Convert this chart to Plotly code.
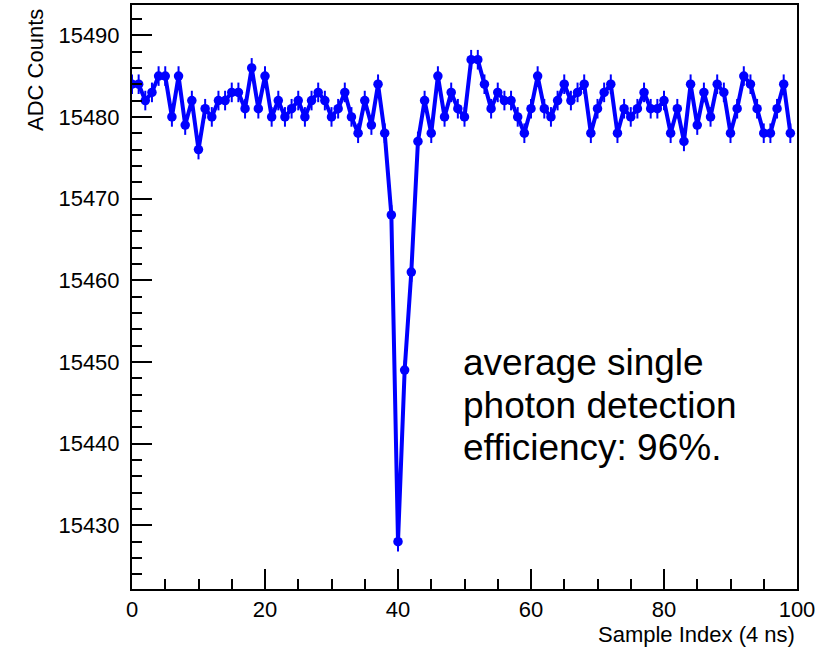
import plotly.graph_objects as go

sample_index = list(range(100))
adc_counts = [
    15484, 15484, 15482, 15483, 15485, 15485, 15480, 15485, 15479, 15482,
    15476, 15481, 15480, 15482, 15482, 15483, 15483, 15481, 15486, 15481,
    15485, 15480, 15482, 15480, 15481, 15482, 15480, 15482, 15483, 15482,
    15480, 15481, 15483, 15480, 15478, 15482, 15479, 15484, 15478, 15468,
    15428, 15449, 15461, 15477, 15482, 15478, 15485, 15480, 15483, 15481,
    15480, 15487, 15487, 15484, 15481, 15483, 15482, 15482, 15480, 15478,
    15481, 15485, 15481, 15480, 15482, 15484, 15482, 15483, 15484, 15478,
    15481, 15483, 15484, 15478, 15481, 15480, 15481, 15483, 15481, 15481,
    15482, 15478, 15481, 15477, 15484, 15479, 15483, 15480, 15484, 15483,
    15478, 15481, 15485, 15484, 15481, 15478, 15478, 15481, 15484, 15478,
]
adc_error = 1.2

x_title = "Sample Index (4 ns)"
y_title = "ADC Counts"
note_lines = ["average single", "photon detection", "efficiency: 96%."]

FONT = "Liberation Sans, Arial, Helvetica, sans-serif"
BLUE = "#0000ff"

fig = go.Figure()
fig.add_trace(go.Scatter(
    x=sample_index, y=adc_counts,
    mode="lines+markers",
    line=dict(color=BLUE, width=4),
    marker=dict(color=BLUE, size=9.5),
    error_y=dict(type="constant", value=adc_error, color=BLUE, thickness=2, width=0),
    hoverinfo="skip",
    showlegend=False,
))

W, H = 826, 647
L, R, T, B = 132, 29, 3, 58
pw, ph = W - L - R, H - T - B

def px_to_paper_x(px):
    return (px - L) / pw

def py_to_paper_y(py):
    return (H - B - py) / ph

annotations = []
for line, center_py in zip(note_lines, [362, 405, 447]):
    annotations.append(dict(
        text=line, xref="paper", yref="paper",
        x=px_to_paper_x(461), y=py_to_paper_y(center_py),
        xanchor="left", yanchor="middle", showarrow=False,
        font=dict(family=FONT, size=37, color="black"),
    ))
annotations.append(dict(
    text=x_title, xref="paper", yref="paper",
    x=1, y=py_to_paper_y(635), xanchor="right", yanchor="middle",
    showarrow=False, font=dict(family=FONT, size=22, color="black"),
))
annotations.append(dict(
    text=y_title, xref="paper", yref="paper",
    x=px_to_paper_x(36), y=py_to_paper_y(5), xanchor="center", yanchor="top",
    textangle=-90, showarrow=False, font=dict(family=FONT, size=22, color="black"),
))

axis_common = dict(
    showline=True, linecolor="black", linewidth=2, mirror=True,
    ticks="inside", tickcolor="black", tickwidth=2, ticklen=20,
    showgrid=False, zeroline=False,
    tickfont=dict(family=FONT, size=22, color="black"),
)

fig.update_layout(
    width=W, height=H,
    margin=dict(l=L, r=R, t=T, b=B, pad=0),
    paper_bgcolor="white", plot_bgcolor="white",
    xaxis=dict(range=[0, 100], dtick=20, tick0=0, tickformat="d",
               minor=dict(ticks="inside", dtick=5, ticklen=10, tickwidth=2, tickcolor="black"),
               ticklabelstandoff=0, **axis_common),
    yaxis=dict(range=[15422.2, 15493.7], dtick=10, tick0=15430, tickformat="d",
               minor=dict(ticks="inside", dtick=2, ticklen=10, tickwidth=2, tickcolor="black"),
               ticklabelstandoff=6, **axis_common),
    annotations=annotations,
    hovermode=False,
)

fig.write_html("out.html", config={"displayModeBar": False})
